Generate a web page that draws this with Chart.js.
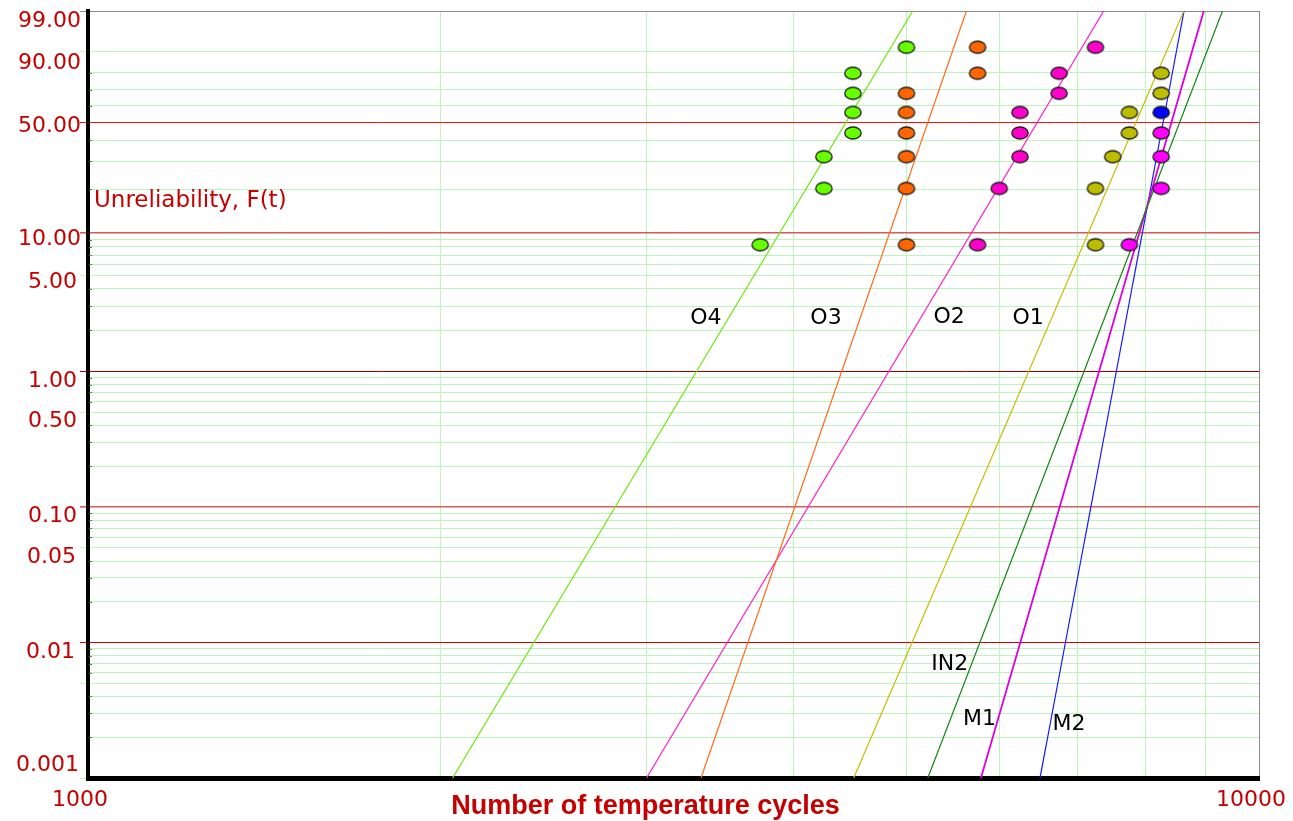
<!DOCTYPE html>
<html><head><meta charset="utf-8">
<script src="https://cdn.jsdelivr.net/npm/chart.js@4.4.1/dist/chart.umd.min.js"></script>
<style>html,body{margin:0;padding:0;background:#fff;overflow:hidden}#wrap{width:1293px;height:821px;position:relative}</style>
</head><body><div id="wrap"><canvas id="c" width="1293" height="821"></canvas></div>
<script>
// ---------------- DATA ----------------
// Unreliability (median rank, %) of the plotted failures
const rankF = [8.3, 20.2, 32.1, 44.0, 56.0, 67.9, 79.8, 91.7];
// failure times (temperature cycles) per group
const o4Cycles = [3750, 4250, 4250, 4500, 4500, 4500, 4500, 5000];
const o3Cycles = [5000, 5000, 5000, 5000, 5000, 5000, 5750, 5750];
const o2Cycles = [5750, 6000, 6250, 6250, 6250, 6750, 6750, 7250];
const o1Cycles = [7250, 7250, 7500, 7750, 7750, 8250, 8250];
const m1Cycles = [7750, 8250, 8250, 8250];
const m2Cycles = [8250];
const m2RankF = [56.0];
// Weibull fit lines: cycles where each line crosses F=0.001 % and F=99 %
const fitNames = ['O4', 'O3', 'O2', 'O1', 'IN2', 'M1', 'M2'];
const fitLowF = 0.001, fitHighF = 99;
const fitLowCycles = [2048, 3338, 2999, 4507, 5214, 5788, 6501];
const fitHighCycles = [5062, 5625, 7368, 8626, 9307, 8971, 8629];
// where the fit names are written
const labelCycles = [3370, 4268, 5437, 6350, 5444, 5771, 6881];
const labelF = [2.48, 2.48, 2.55, 2.48, 0.00706, 0.00277, 0.00255];
// axes
const xGridCycles = [1000, 2000, 3000, 4000, 5000, 6000, 7000, 8000, 9000, 10000];
const xTickLabels = ['1000', '', '', '', '', '', '', '', '', '10000'];
const yGridF = [99, 90, 80, 70, 60, 50, 40, 30, 20, 10, 9, 8, 7, 6, 5, 4, 3, 2,
  1, 0.9, 0.8, 0.7, 0.6, 0.5, 0.4, 0.3, 0.2, 0.1, 0.09, 0.08, 0.07, 0.06, 0.05, 0.04, 0.03, 0.02,
  0.01, 0.009, 0.008, 0.007, 0.006, 0.005, 0.004, 0.003, 0.002, 0.001];
const yLabelF = [99, 90, 50, 10, 5, 1, 0.5, 0.1, 0.05, 0.01, 0.001];
const yLabelText = ['99.00', '90.00', '50.00', '10.00', '5.00', '1.00', '0.50', '0.10', '0.05', '0.01', '0.001'];
const xTitle = 'Number of temperature cycles';
const yTitle = 'Unreliability, F(t)';

// ---------------- STYLE ----------------
const RED = '#c40000';
const GRID_GREEN = '#bbf5bb';
const redLines = {50: '#ff1010', 10: '#d45a5a', 1: '#9a0000', 0.1: '#dc5a5a', 0.01: '#d00000'};
const extendF = [99, 90, 50, 10, 5, 1, 0.5, 0.1, 0.05, 0.01, 0.005, 0.001];
const yLabelNudge = [8, 9, 2, 3.5, 4, 7.5, 6.7, 6.7, 7, 7, -15];
const yLabelRight = [81, 81, 81, 81, 77, 77, 77, 77, 76, 75, 79];
const lineColors = ['#6ee810', '#ff6a1a', '#ff1ec8', '#c8bc00', '#138513', '#dd00dd', '#1818ff'];
const lineWidths = [1.2, 1.2, 1.2, 1.2, 1.2, 1.8, 1.2];

// Weibull probability transform
const toU = f => Math.log(-Math.log1p(-f / 100));

function ellipse(fill) {
  const c = document.createElement('canvas');
  c.width = 20; c.height = 16;
  const g = c.getContext('2d');
  g.beginPath();
  g.ellipse(10, 8, 8.2, 6.0, 0, 0, Math.PI * 2);
  g.fillStyle = fill; g.fill();
  g.lineWidth = 1.3; g.strokeStyle = '#1c1c1c'; g.stroke();
  return c;
}

const datasets = [];
fitNames.forEach((n, i) => {
  datasets.push({
    label: n, showLine: true, order: 2,
    data: [{x: fitLowCycles[i], y: toU(fitLowF)}, {x: fitHighCycles[i], y: toU(fitHighF)}],
    borderColor: lineColors[i], borderWidth: lineWidths[i], pointRadius: 0
  });
});
function pts(label, cycles, ranks, fill) {
  datasets.push({
    label, showLine: false, order: 1,
    data: cycles.map((c, k) => ({x: c, y: toU(ranks[k])})),
    pointStyle: ellipse(fill), pointRadius: 8
  });
}
pts('O4 pts', o4Cycles, rankF, '#66ff00');
pts('O3 pts', o3Cycles, rankF, '#ff6600');
pts('O2 pts', o2Cycles, rankF, '#ff00cc');
pts('O1 pts', o1Cycles, rankF, '#bdbd00');
pts('M2 pts', m2Cycles, m2RankF, '#0000ff');
pts('M1 pts', m1Cycles, rankF, '#ff00ff');

const textPlugin = {
  id: 'texts',
  afterDraw(chart) {
    const ctx = chart.ctx, xs = chart.scales.x, ys = chart.scales.y, a = chart.chartArea;
    ctx.save();
    // small inner tick marks
    ctx.strokeStyle = '#3c8c3c'; ctx.lineWidth = 1;
    yGridF.forEach(f => {
      if (extendF.includes(f)) return;
      const y = Math.round(ys.getPixelForValue(toU(f))) + 0.5;
      ctx.beginPath(); ctx.moveTo(a.left + 1, y); ctx.lineTo(a.left + 4, y); ctx.stroke();
    });
    // y labels
    ctx.fillStyle = RED; ctx.font = '22px "DejaVu Sans"'; ctx.textAlign = 'right'; ctx.textBaseline = 'alphabetic';
    yLabelF.forEach((f, i) => {
      const y = ys.getPixelForValue(toU(f)) + yLabelNudge[i] + 8;
      ctx.fillText(yLabelText[i], yLabelRight[i], y);
    });
    // y title inside plot
    ctx.textAlign = 'left'; ctx.font = '23px "DejaVu Sans"';
    ctx.fillText(yTitle, a.left + 6, 207);
    // x title
    ctx.font = 'bold 27px "Liberation Sans"'; ctx.textAlign = 'center';
    ctx.fillText(xTitle, 645.5, 814);
    // fit names
    ctx.fillStyle = '#000'; ctx.font = '22px "DejaVu Sans"'; ctx.textAlign = 'center'; ctx.textBaseline = 'middle';
    fitNames.forEach((n, i) => {
      ctx.fillText(n, xs.getPixelForValue(labelCycles[i]), ys.getPixelForValue(toU(labelF[i])) + 1);
    });
    ctx.restore();
  }
};

new Chart(document.getElementById('c'), {
  type: 'scatter',
  data: {datasets},
  plugins: [textPlugin],
  options: {
    responsive: false, animation: false, devicePixelRatio: 1,
    layout: {padding: {top: 11, right: 34, left: 0, bottom: 0}},
    plugins: {legend: {display: false}, tooltip: {enabled: false}},
    scales: {
      x: {
        type: 'logarithmic', min: 1000, max: 10000,
        afterBuildTicks: s => { s.ticks = xGridCycles.map(v => ({value: v})); },
        afterFit: s => { s.height = 43; s.paddingLeft = 0; s.paddingRight = 0; },
        ticks: {
          autoSkip: false, maxRotation: 0, padding: 9, labelOffset: -8,
          color: RED, font: {family: 'DejaVu Sans', size: 22},
          callback: (v, i) => xTickLabels[i]
        },
        grid: {
          drawTicks: false, lineWidth: 1,
          color: c => (xGridCycles[c.index] === 10000 ? '#8a8a8a' : GRID_GREEN)
        },
        border: {display: true, color: '#000', width: 5}
      },
      y: {
        type: 'linear', min: toU(0.001), max: toU(99),
        afterBuildTicks: s => { s.ticks = yGridF.map(f => ({value: toU(f)})); },
        afterFit: s => { s.width = 88; s.paddingTop = 0; s.paddingBottom = 0; },
        ticks: {autoSkip: false, padding: 0, callback: () => ''},
        grid: {
          lineWidth: c => { const f = yGridF[c.index]; return (f === 10 || f === 0.1) ? 1.6 : 1; },
          tickLength: 8,
          color: c => {
            const f = yGridF[c.index];
            if (f === 99) return '#8a8a8a';
            return redLines[f] || GRID_GREEN;
          },
          tickColor: c => {
            const f = yGridF[c.index];
            if (!extendF.includes(f)) return 'rgba(0,0,0,0)';
            if (f === 99) return '#8a8a8a';
            return redLines[f] || GRID_GREEN;
          }
        },
        border: {display: true, color: '#000', width: 4}
      }
    }
  }
});
</script></body></html>
